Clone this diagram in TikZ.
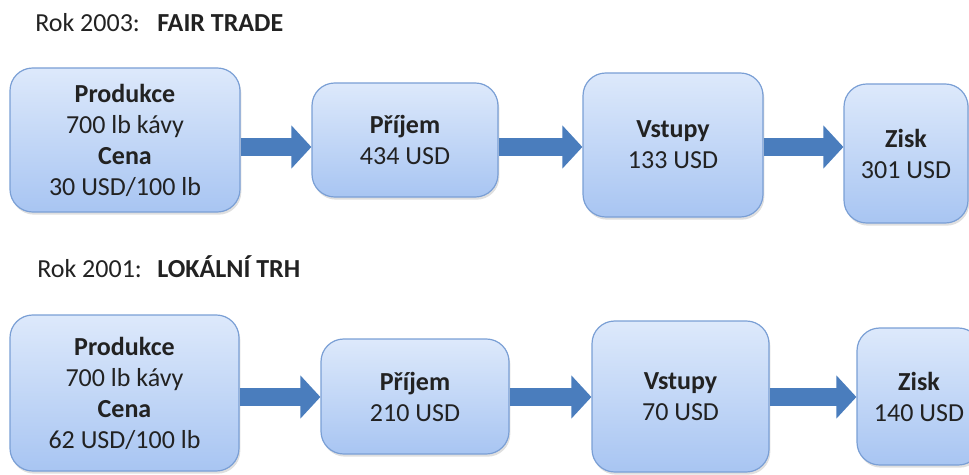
\documentclass[tikz,border=0pt]{standalone}
\usepackage{fontspec}
\setmainfont{Carlito}
\usetikzlibrary{arrows.meta,shadows}
\definecolor{boxtop}{HTML}{DDE9FB}
\definecolor{boxbot}{HTML}{A8C5F2}
\definecolor{boxline}{HTML}{7A9FD5}
\definecolor{arrowblue}{HTML}{4A7DBD}
\definecolor{txt}{HTML}{222222}
\begin{document}
\begin{tikzpicture}[x=0.75pt,y=0.75pt,
    box node/.style={draw=boxline,line width=0.9pt,rounded corners=17pt,
        top color=boxtop,bottom color=boxbot,align=center,text=txt,
        font=\fontsize{19.5}{23.25}\selectfont,inner sep=0pt,
        drop shadow={shadow xshift=1pt,shadow yshift=-2pt,opacity=0.25,fill=gray}},
    title/.style={anchor=base west,inner sep=0pt,text=txt,font=\fontsize{19.5}{23.25}\selectfont},
    flow/.style={color=arrowblue,line width=13.5pt,-{Triangle[length=15pt,width=31.5pt]}}]

    \useasboundingbox (0,0) rectangle (969,-474);
    \clip (0,0) rectangle (969,-474);

    % Rok 2003
    \node[title] (T1) at (35,-32) {Rok 2003:};
    \node[title] (T1b) at (157,-32) {\textbf{FAIR TRADE}};

    \node[box node,minimum width=230*0.75pt,minimum height=144*0.75pt] (P1) at (125,-140)
        {\textbf{Produkce}\\700 lb kávy\\\textbf{Cena}\\30 USD/100 lb};
    \node[box node,minimum width=186*0.75pt,minimum height=114*0.75pt] (I1) at (405,-140)
        {\textbf{Příjem}\\434 USD};
    \node[box node,minimum width=180*0.75pt,minimum height=144*0.75pt] (V1) at (673,-145)
        {\textbf{Vstupy}\\133 USD};
    \node[box node,minimum width=124*0.75pt,minimum height=139*0.75pt] (Z1) at (906,-153.5)
        {\textbf{Zisk}\\301 USD};
    \coordinate (row1) at (0,-147);

    \draw[flow] (P1.east |- row1) -- (I1.west |- row1);
    \draw[flow] (I1.east |- row1) -- (V1.west |- row1);
    \draw[flow] (V1.east |- row1) -- (Z1.west |- row1);

    % Rok 2001
    \node[title] (T2) at (37,-277) {Rok 2001:};
    \node[title] (T2b) at (157,-277) {\textbf{LOKÁLNÍ TRH}};

    \node[box node,minimum width=229*0.75pt,minimum height=156*0.75pt] (P2) at (124.5,-393)
        {\textbf{Produkce}\\700 lb kávy\\\textbf{Cena}\\62 USD/100 lb};
    \node[box node,minimum width=188*0.75pt,minimum height=115*0.75pt] (I2) at (415,-396.5)
        {\textbf{Příjem}\\210 USD};
    \node[box node,minimum width=177*0.75pt,minimum height=151*0.75pt] (V2) at (680.5,-396.5)
        {\textbf{Vstupy}\\70 USD};
    \node[box node,minimum width=124*0.75pt,minimum height=137*0.75pt] (Z2) at (919,-396.5)
        {\textbf{Zisk}\\140 USD};
    \coordinate (row2) at (0,-397);

    \draw[flow] (P2.east |- row2) -- (I2.west |- row2);
    \draw[flow] (I2.east |- row2) -- (V2.west |- row2);
    \draw[flow] (V2.east |- row2) -- (Z2.west |- row2);

\end{tikzpicture}
\end{document}
